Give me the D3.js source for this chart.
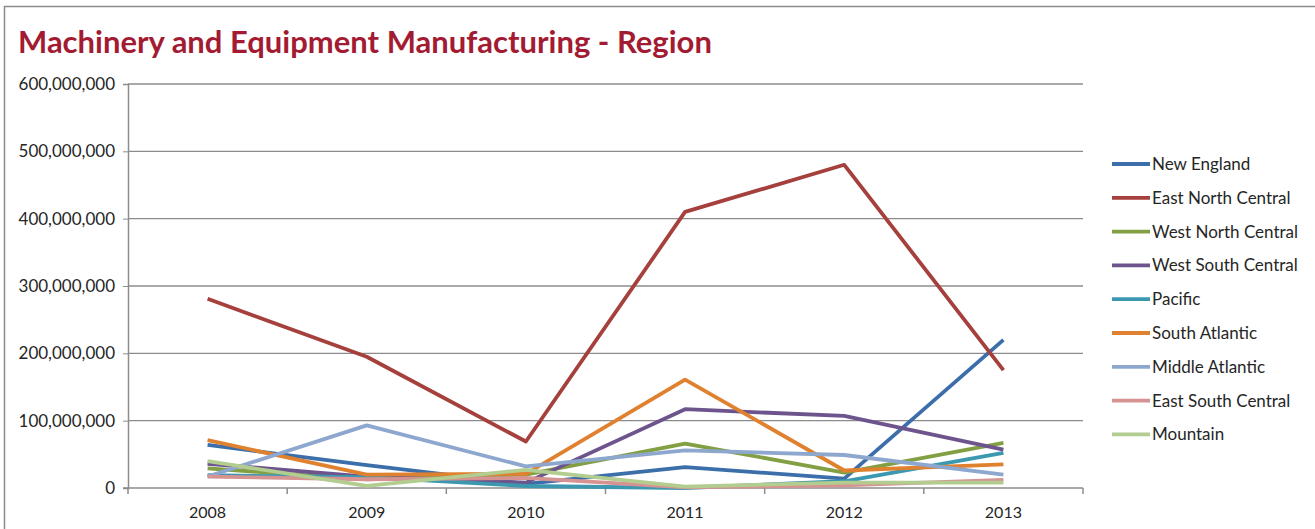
<!DOCTYPE html>
<html>
<head>
<meta charset="utf-8">
<script src="https://cdn.jsdelivr.net/npm/d3@7"></script>
<style>
  body { margin: 0; background: #fff; }
  text { font-family: Lato, "Open Sans", sans-serif; }
</style>
</head>
<body>
<script>
const years = ['2008', '2009', '2010', '2011', '2012', '2013'];
const regions = ['New England', 'East North Central', 'West North Central', 'West South Central',
  'Pacific', 'South Atlantic', 'Middle Atlantic', 'East South Central', 'Mountain'];
const colors = ['#3C6EAA', '#A5403D', '#82A043', '#6E548D', '#3B98B0', '#E0812F', '#8EA7CF', '#D69392', '#B3CC8F'];

// values per region, one per year
const newEngland = [64e6, 34e6, 6e6, 31e6, 14e6, 220e6];
const eastNorthCentral = [281e6, 195e6, 69e6, 410e6, 480e6, 175e6];
const westNorthCentral = [29e6, 13e6, 20e6, 66e6, 23e6, 67e6];
const westSouthCentral = [36e6, 17e6, 8e6, 117e6, 107e6, 57e6];
const pacific = [19e6, 16e6, 3e6, 0, 10e6, 52e6];
const southAtlantic = [71e6, 20e6, 21e6, 161e6, 26e6, 35e6];
const middleAtlantic = [17e6, 93e6, 32e6, 56e6, 49e6, 20e6];
const eastSouthCentral = [17e6, 13e6, 15e6, 1e6, 4e6, 12e6];
const mountain = [40e6, 3e6, 27e6, 2e6, 8e6, 8e6];
const seriesValues = [newEngland, eastNorthCentral, westNorthCentral, westSouthCentral,
  pacific, southAtlantic, middleAtlantic, eastSouthCentral, mountain];
const yTicks = [0, 100e6, 200e6, 300e6, 400e6, 500e6, 600e6];

const width = 1315, height = 529;
const margin = { left: 128, right: 232, top: 84, bottom: 41 };
const plotW = width - margin.left - margin.right;
const plotH = height - margin.top - margin.bottom;

const svg = d3.select('body').append('svg').attr('width', width).attr('height', height);

// outer frame
svg.append('rect').attr('x', 4.5).attr('y', 6.5).attr('width', 1320).attr('height', 540)
  .attr('fill', 'none').attr('stroke', '#8c8c8c').attr('stroke-width', 1.5);

svg.append('text').attr('x', 18).attr('y', 53)
  .attr('fill', '#A31B32').attr('font-size', 31).attr('font-weight', 'bold')
  .text('Machinery and Equipment Manufacturing - Region');

const x = d3.scaleBand().domain(years).range([0, plotW]);
const y = d3.scaleLinear().domain([0, 600e6]).range([plotH, 0]);

const g = svg.append('g').attr('transform', 'translate(' + margin.left + ',' + margin.top + ')');

// gridlines
g.append('g').selectAll('line').data(yTicks.slice(1)).join('line')
  .attr('x1', 0).attr('x2', plotW).attr('y1', d => y(d)).attr('y2', d => y(d))
  .attr('stroke', '#8c8c8c').attr('stroke-width', 1.3);

const yAxis = d3.axisLeft(y).tickValues(yTicks).tickSize(5).tickPadding(8).tickFormat(d3.format(','));
const yg = g.append('g').call(yAxis);
yg.select('.domain').attr('stroke', '#8c8c8c').attr('stroke-width', 1.5);
yg.selectAll('.tick line').attr('stroke', '#8c8c8c');
yg.selectAll('.tick text').attr('font-size', 17).attr('fill', '#262626').attr('font-family', 'Lato, sans-serif');

// x axis with boundary ticks between categories
const xg = g.append('g').attr('transform', 'translate(0,' + plotH + ')');
xg.append('line').attr('x1', -5).attr('x2', plotW).attr('stroke', '#8c8c8c').attr('stroke-width', 1.5);
xg.selectAll('.bt').data(years.concat(['end'])).join('line').attr('class', 'bt')
  .attr('x1', (d, i) => i * x.step()).attr('x2', (d, i) => i * x.step())
  .attr('y1', 0).attr('y2', 6).attr('stroke', '#8c8c8c').attr('stroke-width', 1.5);
xg.selectAll('text').data(years).join('text')
  .attr('x', d => x(d) + x.bandwidth() / 2).attr('y', 30)
  .attr('text-anchor', 'middle').attr('font-size', 16).attr('fill', '#262626')
  .text(d => d);

const line = d3.line()
  .x((d, i) => x(years[i]) + x.bandwidth() / 2)
  .y(d => y(d));

g.append('g').selectAll('path').data(seriesValues).join('path')
  .attr('d', d => line(d))
  .attr('fill', 'none')
  .attr('stroke', (d, i) => colors[i])
  .attr('stroke-width', 3.8)
  .attr('stroke-linejoin', 'round');

// legend
const leg = svg.append('g').attr('transform', 'translate(1112,164)');
const items = leg.selectAll('g').data(regions).join('g')
  .attr('transform', (d, i) => 'translate(0,' + (i * 33.8) + ')');
items.append('line').attr('x1', 0).attr('x2', 38)
  .attr('stroke', (d, i) => colors[i]).attr('stroke-width', 3.8);
items.append('text').attr('x', 40).attr('y', 6).attr('font-size', 17).attr('fill', '#262626')
  .text(d => d);
</script>
</body>
</html>
